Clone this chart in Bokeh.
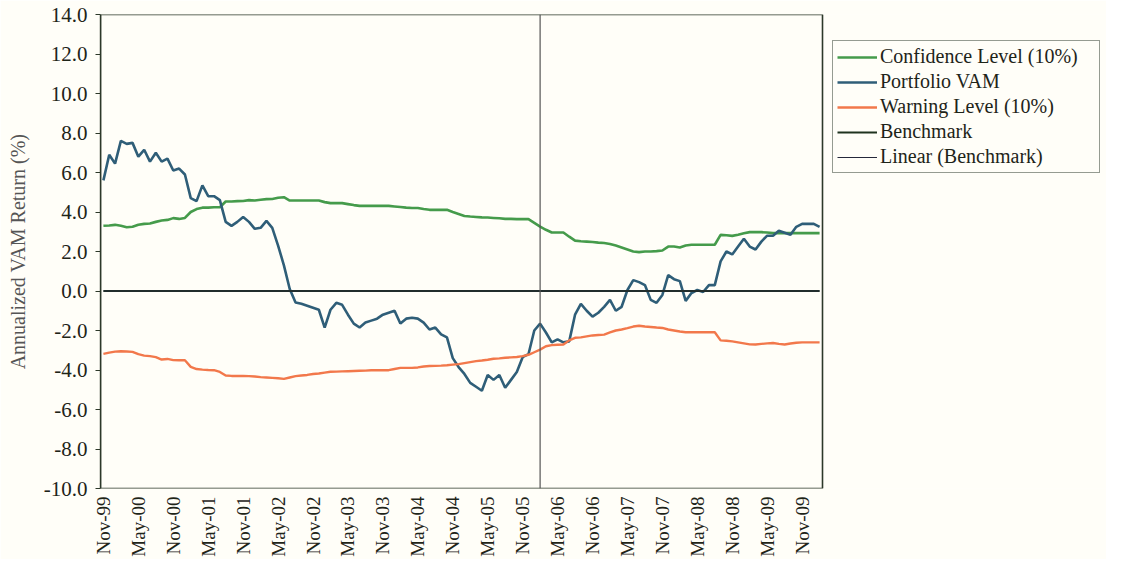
from bokeh.plotting import figure
from bokeh.models import (Range1d, FixedTicker, NumeralTickFormatter, Legend,
                          LegendItem, BoxAnnotation)
from bokeh.embed import file_html
from bokeh.resources import INLINE
import math

# Monthly series, Nov-99 .. Feb-10 (124 months)
confidence = [
    3.30, 3.32, 3.35, 3.30, 3.23, 3.25, 3.35, 3.40, 3.42, 3.50,
    3.57, 3.60, 3.69, 3.65, 3.70, 4.00, 4.15, 4.22, 4.22, 4.24,
    4.24, 4.53, 4.53, 4.55, 4.56, 4.60, 4.58, 4.62, 4.65, 4.66,
    4.72, 4.75, 4.58, 4.58, 4.58, 4.58, 4.58, 4.58, 4.50, 4.45,
    4.45, 4.45, 4.40, 4.35, 4.31, 4.31, 4.31, 4.31, 4.31, 4.31,
    4.28, 4.25, 4.22, 4.20, 4.20, 4.15, 4.11, 4.11, 4.11, 4.11,
    4.00, 3.90, 3.80, 3.77, 3.75, 3.73, 3.72, 3.70, 3.68, 3.65,
    3.65, 3.64, 3.64, 3.64, 3.45, 3.26, 3.10, 2.96, 2.96, 2.96,
    2.75, 2.55, 2.52, 2.50, 2.48, 2.45, 2.43, 2.38, 2.30, 2.20,
    2.10, 2.00, 1.97, 2.00, 2.00, 2.02, 2.05, 2.25, 2.25, 2.20,
    2.30, 2.34, 2.34, 2.34, 2.34, 2.34, 2.84, 2.82, 2.79, 2.85,
    2.92, 2.98, 2.98, 2.98, 2.96, 2.93, 2.93, 2.93, 2.93, 2.93,
    2.93, 2.93, 2.93, 2.93,
]
portfolio = [
    5.60, 6.90, 6.45, 7.60, 7.45, 7.50, 6.80, 7.15, 6.55, 7.00,
    6.55, 6.70, 6.10, 6.20, 5.90, 4.70, 4.55, 5.35, 4.80, 4.80,
    4.60, 3.50, 3.30, 3.50, 3.75, 3.50, 3.15, 3.20, 3.55, 3.20,
    2.30, 1.30, 0.10, -0.58, -0.65, -0.75, -0.85, -0.95, -1.85, -0.95,
    -0.60, -0.70, -1.20, -1.65, -1.85, -1.60, -1.50, -1.40, -1.20, -1.10,
    -1.00, -1.65, -1.40, -1.35, -1.40, -1.60, -1.95, -1.85, -2.20, -2.35,
    -3.40, -3.85, -4.20, -4.65, -4.85, -5.05, -4.25, -4.50, -4.25, -4.90,
    -4.50, -4.10, -3.35, -3.20, -2.00, -1.65, -2.10, -2.60, -2.45, -2.60,
    -2.55, -1.20, -0.65, -1.00, -1.30, -1.10, -0.80, -0.45, -1.00, -0.80,
    0.05, 0.55, 0.45, 0.30, -0.45, -0.60, -0.20, 0.80, 0.60, 0.50,
    -0.50, -0.10, 0.05, -0.05, 0.30, 0.30, 1.50, 2.00, 1.85, 2.25,
    2.65, 2.25, 2.10, 2.50, 2.80, 2.80, 3.05, 2.95, 2.85, 3.25,
    3.40, 3.40, 3.40, 3.25,
]
warning = [
    -3.18, -3.12, -3.07, -3.05, -3.06, -3.08, -3.20, -3.27, -3.30, -3.35,
    -3.47, -3.44, -3.50, -3.51, -3.51, -3.84, -3.95, -3.98, -4.00, -4.01,
    -4.10, -4.28, -4.30, -4.30, -4.30, -4.31, -4.33, -4.36, -4.38, -4.40,
    -4.42, -4.45, -4.38, -4.31, -4.28, -4.25, -4.20, -4.18, -4.13, -4.09,
    -4.08, -4.07, -4.06, -4.05, -4.04, -4.03, -4.01, -4.01, -4.01, -4.01,
    -3.95, -3.89, -3.89, -3.89, -3.87, -3.82, -3.80, -3.79, -3.78, -3.76,
    -3.73, -3.70, -3.65, -3.60, -3.55, -3.52, -3.48, -3.43, -3.41, -3.38,
    -3.36, -3.34, -3.30, -3.23, -3.10, -2.97, -2.80, -2.74, -2.72, -2.71,
    -2.50, -2.37, -2.35, -2.30, -2.25, -2.23, -2.21, -2.10, -2.00, -1.95,
    -1.88, -1.80, -1.76, -1.80, -1.82, -1.85, -1.87, -1.95, -2.00, -2.05,
    -2.09, -2.09, -2.09, -2.09, -2.09, -2.09, -2.50, -2.52, -2.55, -2.60,
    -2.65, -2.70, -2.71, -2.68, -2.65, -2.63, -2.68, -2.71, -2.66, -2.62,
    -2.60, -2.60, -2.60, -2.60,
]
benchmark = [0.0] * len(portfolio)
linear_benchmark = [0.0] * len(portfolio)

tick_labels = ["Nov-99", "May-00", "Nov-00", "May-01", "Nov-01", "May-02", "Nov-02",
               "May-03", "Nov-03", "May-04", "Nov-04", "May-05", "Nov-05", "May-06",
               "Nov-06", "May-07", "Nov-07", "May-08", "Nov-08", "May-09", "Nov-09"]
tick_step = 6
split_index = 75  # Feb-06

n = len(portfolio)
x = list(range(n))

BG = "#fffef8"
SERIF = "Liberation Serif"
TXT = "#1e2418"
EDGE = "#2c3829"

W, H = 1106, 559
LEFT, TOP, BOTTOM = 100, 14, 70
PLOT_RIGHT = 822  # right edge of the plotting box in pixels
px_per_month = (PLOT_RIGHT - LEFT) / n
x_end = -0.5 + (W - LEFT) / px_per_month  # frame extends to hold the legend

p = figure(width=W, height=H, output_backend="svg", toolbar_location=None,
           x_range=Range1d(-0.5, x_end), y_range=Range1d(-10, 14),
           min_border_left=LEFT, min_border_right=0, min_border_top=TOP,
           min_border_bottom=BOTTOM)
p.background_fill_color = BG
p.border_fill_color = BG
p.outline_line_color = None
p.xgrid.visible = False
p.ygrid.visible = False

# plotting box edges
box_x = [-0.5, n - 0.5, n - 0.5, -0.5, -0.5]
box_y = [14, 14, -10, -10, 14]
p.line(box_x, box_y, line_color=EDGE, line_width=1.6)

r_conf = p.line(x, confidence, line_color="#459b4b", line_width=2.6)
r_port = p.line(x, portfolio, line_color="#2f5e78", line_width=2.6)
r_warn = p.line(x, warning, line_color="#f2784b", line_width=2.4)
r_bench = p.line(x, benchmark, line_color="#1f331f", line_width=2.2)
r_lin = p.line(x, linear_benchmark, line_color="#25283a", line_width=1.2)

p.segment(x0=[split_index], y0=[-10], x1=[split_index], y1=[14],
          line_color="#555555", line_width=1.2)

# y axis
p.yaxis.ticker = FixedTicker(ticks=list(range(-10, 15, 2)))
p.yaxis.formatter = NumeralTickFormatter(format="0.0")
p.yaxis.major_label_text_font = SERIF
p.yaxis.major_label_text_font_size = "21px"
p.yaxis.major_label_text_color = TXT
p.yaxis.major_label_standoff = 8
p.yaxis.major_tick_out = 5
p.yaxis.major_tick_in = 0
p.yaxis.minor_tick_line_color = None
p.yaxis.axis_line_color = EDGE
p.yaxis.axis_line_width = 1.4
p.yaxis.major_tick_line_color = EDGE
p.yaxis.axis_label = "Annualized VAM Return (%)"
p.yaxis.axis_label_text_font = SERIF
p.yaxis.axis_label_text_font_style = "normal"
p.yaxis.axis_label_text_font_size = "20px"
p.yaxis.axis_label_text_color = "#555555"
p.yaxis.axis_label_standoff = 12

# x axis
ticks = list(range(0, n, tick_step))[:len(tick_labels)]
p.xaxis.ticker = FixedTicker(ticks=ticks)
p.xaxis.major_label_overrides = {t: lab for t, lab in zip(ticks, tick_labels)}
p.xaxis.major_label_orientation = math.pi / 2
p.xaxis.major_label_text_font = SERIF
p.xaxis.major_label_text_font_size = "19px"
p.xaxis.major_label_text_color = TXT
p.xaxis.major_label_standoff = 8
p.xaxis.major_tick_out = 0
p.xaxis.major_tick_in = 0
p.xaxis.major_tick_line_color = None
p.xaxis.minor_tick_line_color = None
p.xaxis.axis_line_color = None

legend = Legend(items=[
    LegendItem(label="Confidence Level (10%)", renderers=[r_conf]),
    LegendItem(label="Portfolio VAM", renderers=[r_port]),
    LegendItem(label="Warning Level (10%)", renderers=[r_warn]),
    LegendItem(label="Benchmark", renderers=[r_bench]),
    LegendItem(label="Linear (Benchmark)", renderers=[r_lin]),
], location=(732, 315))
legend.label_text_font = SERIF
legend.label_text_font_size = "20px"
legend.label_text_color = TXT
legend.label_standoff = 3
legend.label_width = 215
legend.glyph_width = 40
legend.glyph_height = 18
legend.label_height = 18
legend.spacing = 2
legend.padding = 4
legend.margin = 0
legend.border_line_color = EDGE
legend.border_line_width = 1.2
legend.background_fill_color = BG
legend.background_fill_alpha = 1.0
p.add_layout(legend, "center")

open("out.html", "w").write(file_html(p, INLINE))
